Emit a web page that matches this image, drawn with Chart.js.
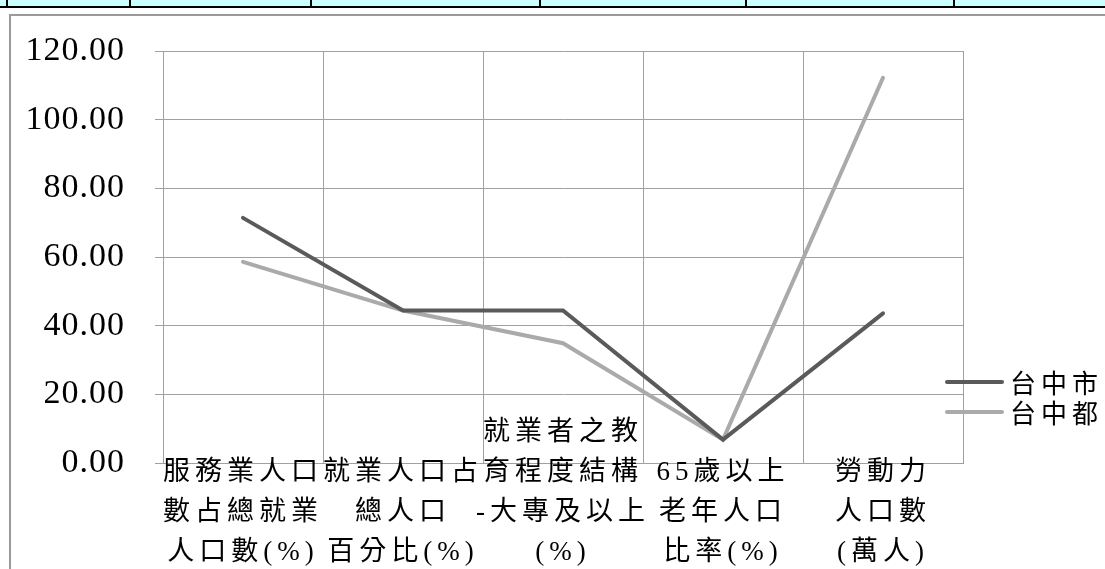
<!DOCTYPE html>
<html>
<head>
<meta charset="utf-8">
<script src="https://cdn.jsdelivr.net/npm/chart.js@4.4.0/dist/chart.umd.min.js"></script>
<style>
  html, body { margin: 0; padding: 0; background: #fff; overflow: hidden; }
  #wrap { position: relative; width: 1105px; height: 569px; }
  #strip { position: absolute; left: 0; top: 0; width: 1105px; height: 6px; background: #ccffff; border-bottom: 2px solid #000; }
  .vb { position: absolute; top: 0; width: 2px; height: 8px; background: #000; }
  #frame { position: absolute; left: 9px; top: 14px; width: 1200px; height: 700px; border: 2px solid #9a9a9a; }
  canvas { position: absolute; left: 0; top: 0; }
</style>
</head>
<body>
<div id="wrap">
  <div id="strip"></div>
  <div class="vb" style="left:6px"></div>
  <div class="vb" style="left:129px"></div>
  <div class="vb" style="left:310px"></div>
  <div class="vb" style="left:539px"></div>
  <div class="vb" style="left:745px"></div>
  <div class="vb" style="left:953px"></div>
  <div id="frame"></div>
  <canvas id="c" width="1105" height="569"></canvas>
</div>
<script>
const categories = [
  ['服務業人口', '數占總就業', '人口數(%)'],
  ['就業人口占', '總人口', '百分比(%)'],
  ['就業者之教', '育程度結構', '-大專及以上', '(%)'],
  ['65歲以上', '老年人口', '比率(%)'],
  ['勞動力', '人口數', '(萬人)']
];
const seriesNames = ['台中市', '台中都'];
const taichungCity = [71.4, 44.4, 44.4, 6.8, 43.6];
const taichungDu = [58.6, 44.4, 34.9, 6.8, 112.2];
const yMin = 0, yMax = 120, yStep = 20;

const colors = ['#5a5a5a', '#aaaaaa'];
const gridColor = '#a0a0a0';

// pad labels at top so every label block is bottom-aligned
const maxLines = Math.max(...categories.map(c => c.length));
const tickLabels = categories.map(c => Array(maxLines - c.length).fill('').concat(c));

const spacingPlugin = {
  id: 'spacing',
  beforeUpdate(chart) { chart.ctx.letterSpacing = '5px'; },
  afterLayout(chart) {
    // let the category labels extend above the axis line (no clipping to the scale box)
    if (chart.scales.x) chart.scales.x._computeLabelArea = () => undefined;
  },
  beforeDraw(chart) { chart.ctx.letterSpacing = '5px'; },
  afterDatasetsDraw(chart) { chart.ctx.letterSpacing = '1px'; },
  afterDraw(chart) {
    const ctx = chart.ctx;
    const area = chart.chartArea;
    ctx.save();
    ctx.letterSpacing = '5px';
    ctx.font = '26px "Noto Sans CJK TC"';
    ctx.textAlign = 'left';
    ctx.textBaseline = 'middle';
    chart.data.datasets.forEach((ds, i) => {
      const y = area.bottom - 81 + i * 30;
      const x0 = area.right - 16;
      ctx.beginPath();
      ctx.strokeStyle = ds.borderColor;
      ctx.lineWidth = 4;
      ctx.lineCap = 'round';
      ctx.moveTo(x0, y);
      ctx.lineTo(x0 + 55, y);
      ctx.stroke();
      ctx.fillStyle = '#000';
      ctx.fillText(ds.label, x0 + 63, y + 1);
    });
    ctx.restore();
    ctx.letterSpacing = '0px';
  }
};

new Chart(document.getElementById('c'), {
  type: 'line',
  data: {
    labels: tickLabels,
    datasets: [
      { label: seriesNames[0], data: taichungCity, borderColor: colors[0], backgroundColor: colors[0],
        borderWidth: 4, pointRadius: 0, tension: 0, borderCapStyle: 'round', fill: false },
      { label: seriesNames[1], data: taichungDu, borderColor: colors[1], backgroundColor: colors[1],
        borderWidth: 4, pointRadius: 0, tension: 0, borderCapStyle: 'round', fill: false }
    ]
  },
  options: {
    responsive: false,
    devicePixelRatio: 1,
    animation: false,
    layout: { padding: { top: 51, right: 142, left: 0, bottom: 0 } },
    plugins: { legend: { display: false }, tooltip: { enabled: false } },
    scales: {
      x: {
        offset: true,
        grid: { offset: true, color: gridColor, lineWidth: 1, drawTicks: false },
        border: { color: gridColor, width: 1 },
        ticks: {
          autoSkip: false, maxRotation: 0, minRotation: 0,
          padding: -50,
          color: '#000',
          font: { family: '"Liberation Serif", "Noto Sans CJK TC"', size: 27, lineHeight: '40px' }
        },
        afterFit(scale) { scale.height = 106; }
      },
      y: {
        min: yMin, max: yMax,
        grid: { color: gridColor, lineWidth: 1, tickLength: 8 },
        border: { color: gridColor, width: 1 },
        ticks: {
          stepSize: yStep, z: 1, padding: 30, color: '#000',
          font: { family: '"Liberation Serif"', size: 34 },
          callback: v => Number(v).toFixed(2)
        },
        afterFit(scale) { scale.width = 163; }
      }
    }
  },
  plugins: [spacingPlugin]
});
</script>
</body>
</html>
